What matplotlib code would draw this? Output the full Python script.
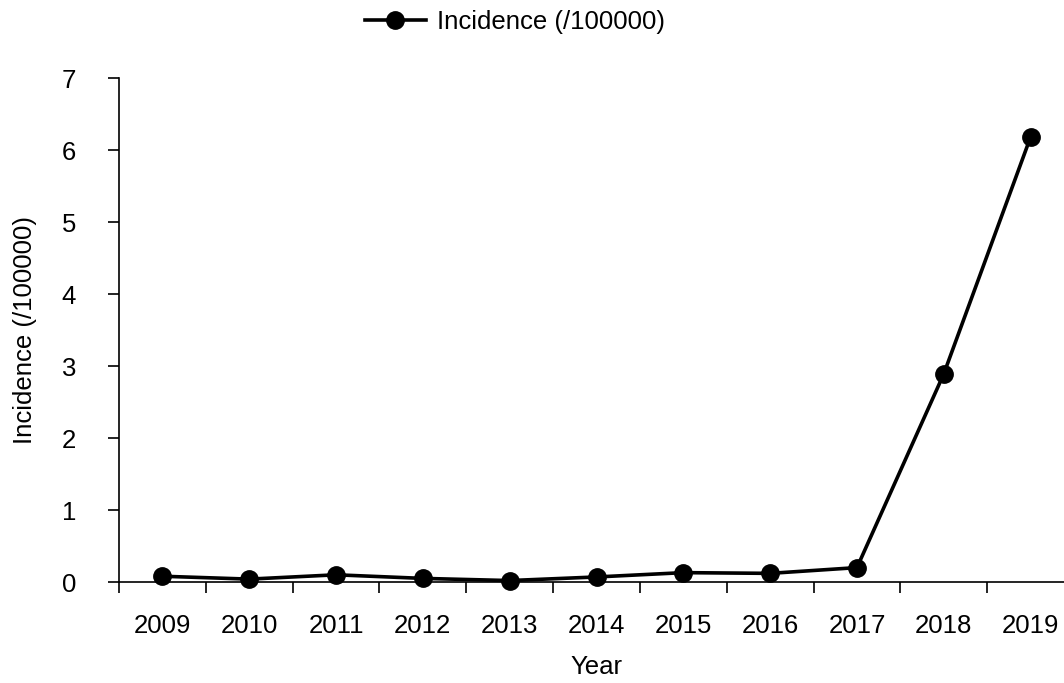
import matplotlib
matplotlib.use("Agg")
import matplotlib.pyplot as plt
from matplotlib.ticker import FixedLocator

plt.rcParams['font.family'] = ['Liberation Sans', 'DejaVu Sans']

years = ['2009', '2010', '2011', '2012', '2013', '2014', '2015', '2016', '2017', '2018', '2019']
incidence = [0.08, 0.04, 0.10, 0.05, 0.02, 0.07, 0.13, 0.12, 0.20, 2.89, 6.18]

FS = 18.5
fig = plt.figure(figsize=(10.64, 6.83), dpi=100)
ax = fig.add_axes([119/1064, 101/683, 955/1064, 504/683])

x = list(range(len(years)))
ax.plot(x, incidence, color='black', lw=2.6, marker='o', markersize=12.5,
        label='Incidence (/100000)', clip_on=False)

ax.set_xlim(-0.5, len(years) - 0.5)
ax.set_ylim(0, 7)
ax.set_yticks(range(0, 8))
ax.xaxis.set_major_locator(FixedLocator([i - 0.5 for i in range(len(years) + 1)]))
ax.xaxis.set_minor_locator(FixedLocator(x))
ax.set_xticklabels([])
ax.set_xticklabels(years, minor=True)
ax.tick_params(axis='x', which='major', length=8, width=1.2, direction='out')
ax.tick_params(axis='x', which='minor', length=0, pad=23, labelsize=FS)
ax.tick_params(axis='y', length=8, width=1.2, direction='out', pad=23, labelsize=FS)

for s in ['top', 'right']:
    ax.spines[s].set_visible(False)
for s in ['left', 'bottom']:
    ax.spines[s].set_linewidth(1.2)

ax.set_xlabel('Year', fontsize=FS, labelpad=12)
ax.set_ylabel('Incidence (/100000)', fontsize=FS, labelpad=18)

fig.legend(loc='center left', bbox_to_anchor=(365/1064, 1 - 22/683), frameon=False,
           fontsize=FS, handlelength=2.37, handletextpad=0.43, borderpad=0,
           borderaxespad=0)

fig.savefig('out.png', dpi=100)
